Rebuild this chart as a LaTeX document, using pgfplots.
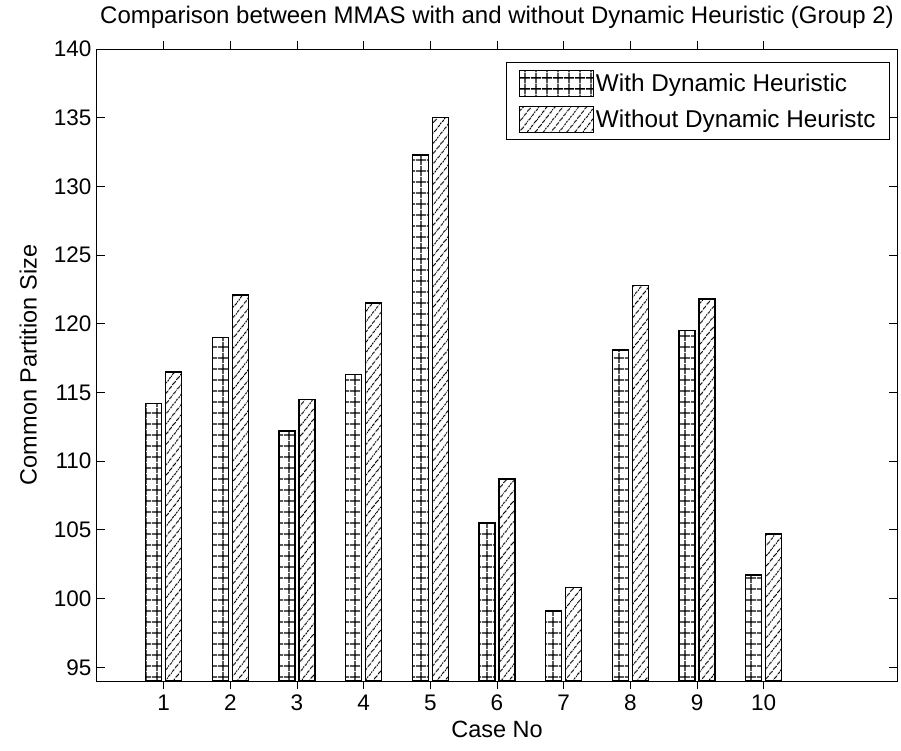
\documentclass[border=0pt]{standalone}
\usepackage{pgfplots}
\pgfplotsset{compat=1.18}
\usepackage{fontspec}
\setmainfont{Liberation Sans}
\usetikzlibrary{patterns.meta}
\pgfplotstableread{
x with without
1 114.2 116.5
2 119.0 122.1
3 112.2 114.5
4 116.3 121.5
5 132.3 135.0
6 105.5 108.7
7 99.1 100.8
8 118.1 122.8
9 119.5 121.8
10 101.7 104.7
}\datatable
\begin{document}
\begin{tikzpicture}
\path[use as bounding box] (-97pt,-69pt) rectangle (804pt,681pt);
\begin{axis}[
  at={(0,0)}, anchor=south west,
  scale only axis, width=800pt, height=632pt,
  xmin=0, xmax=12, ymin=94, ymax=140,
  xtick={1,...,10}, ytick={95,100,...,140},
  tick align=inside, xtick pos=both, ytick pos=both,
  major tick length=8pt,
  axis line style={line width=1pt},
  every tick/.style={black, line width=1pt},
  /pgf/number format/assume math mode=true,
  tick label style={font=\fontsize{22.5}{26}\selectfont},
  yticklabel style={xshift=-2pt},
  xticklabel style={yshift=-2pt},
  title={Comparison between MMAS with and without Dynamic Heuristic (Group 2)},
  title style={font=\fontsize{24}{28}\selectfont, at={(0.5,1)}, anchor=base, yshift=19pt},
  xlabel={Case No},
  xlabel style={font=\fontsize{23.5}{28}\selectfont, at={(0.5,0)}, anchor=base, yshift=-56pt},
  ylabel={Common Partition Size},
  every axis y label/.style={at={(ticklabel cs:0.5)}, rotate=90, anchor=base, font=\fontsize{23.5}{28}\selectfont, yshift=14pt},
  ybar, bar width=0.24,
  legend style={at={(1,1)}, anchor=north east, xshift=-7pt, yshift=-13pt,
    draw=black, line width=1pt, font=\fontsize{24.3}{29}\selectfont,
    inner xsep=12pt, inner ysep=7pt, row sep=9pt},
  legend cell align=left,
  legend image code/.code={\draw[#1, line width=1pt] (0pt,-13pt) rectangle (74pt,13pt);},
]
\addplot[bar shift=-0.15, draw=black, line width=1.5pt, fill=white,
  postaction={pattern={Hatch[angle=0, distance=10.5pt, line width=1.3pt]}}]
  table[x=x, y=with] {\datatable};
\addplot[bar shift=0.15, draw=black, line width=1.5pt, fill=white,
  postaction={pattern={Lines[angle=52, distance=6.5pt, line width=1.1pt]}}]
  table[x=x, y=without] {\datatable};
\legend{With Dynamic Heuristic, Without Dynamic Heuristc}
\end{axis}
\end{tikzpicture}
\end{document}
